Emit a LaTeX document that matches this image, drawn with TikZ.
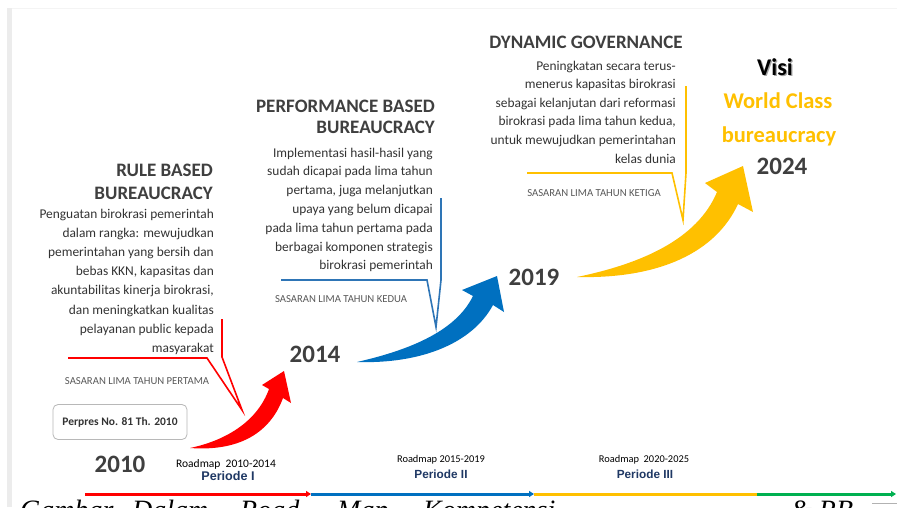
\documentclass[tikz,border=0pt]{standalone}
\usepackage{fontspec}
\setmainfont{Carlito}
\newfontfamily\heavyfont{Liberation Sans}
\newfontfamily\captionfont{Liberation Serif}
\usetikzlibrary{arrows.meta}

\definecolor{headgray}{HTML}{3F3F3F}
\definecolor{bodygray}{HTML}{333333}
\definecolor{notegray}{HTML}{595959}
\definecolor{rmred}{HTML}{FF0000}
\definecolor{rmblue}{HTML}{0070C0}
\definecolor{rmblueline}{HTML}{2E75B6}
\definecolor{rmyellow}{HTML}{FFC000}
\definecolor{rmgreen}{HTML}{00B050}
\definecolor{navy}{HTML}{1F3864}
\definecolor{edgegray}{HTML}{ECECEC}

\begin{document}
\begin{tikzpicture}[x=1pt,y=-1pt,
  head/.style={font=\fontsize{19}{23}\selectfont\bfseries, text=headgray, inner sep=0},
  body/.style={font=\fontsize{13.4}{19}\selectfont, text=bodygray, inner sep=0},
  target/.style={font=\fontsize{10.7}{12}\selectfont, text=notegray, inner sep=0},
  year/.style={font=\fontsize{25}{30}\selectfont\bfseries, text=headgray, inner sep=0},
  roadmap/.style={font=\fontsize{10.4}{12}\selectfont, text=black, inner sep=0},
  periode/.style={font=\heavyfont\fontsize{11.8}{13}\selectfont\bfseries, text=navy, inner sep=0},
  vision/.style={font=\fontsize{22.5}{26}\selectfont\bfseries, text=rmyellow, inner sep=0},
  calloutline/.style={line width=1.6pt, line join=miter},
  timeline/.style={line width=3pt},
  tiny tip/.style={-{Triangle[length=5pt,width=6pt]}},
  caption/.style={font=\captionfont\itshape\fontsize{28}{30}\selectfont, text=black, inner sep=0, anchor=base west}
]
\useasboundingbox (0,0) rectangle (897,507);
\fill[white] (0,0) rectangle (897,507);

% page frame shading on the left and top
\fill[edgegray] (7,8) rectangle (12,507);
\draw[edgegray!60, line width=0.8pt] (12,8) -- (897,8);

% ---------- Period I : rule based bureaucracy ----------
\node[head, anchor=base east] (rbh1) at (213,176) {RULE BASED};
\node[head, anchor=base east] (rbh2) at (213,199) {BUREAUCRACY};
\foreach \t [count=\i] in {Penguatan birokrasi pemerintah, dalam rangka: mewujudkan,
  pemerintahan yang bersih dan, {bebas KKN, kapasitas dan},
  {akuntabilitas kinerja birokrasi,}, dan meningkatkan kualitas,
  pelayanan public kepada, masyarakat}
  \node[body, anchor=base east] (rb\i) at (214,{218+(\i-1)*19.2}) {\t};

\coordinate (rc1) at (68,358);
\coordinate (rc2) at (207,358);
\coordinate (rtip) at (242,410);
\coordinate (rc3) at (222,357);
\coordinate (rc4) at (222,319);
\draw[calloutline, rmred] (rc1) -- (rc2) -- (rtip) -- (rc3) -- (rc4);
\node[target] (rbtarget) at (137,381) {SASARAN LIMA TAHUN PERTAMA};

\node[draw=black!28, rounded corners=5pt, line width=0.8pt, minimum width=134pt,
  minimum height=35pt, inner sep=0, fill=white] (perpres) at (120,422) {};
\node[font=\fontsize{11.5}{13}\selectfont\bfseries, text=bodygray, inner sep=0]
  (perprestext) at (perpres.center) {Perpres No. 81 Th. 2010};

\node[year, anchor=base] (y2010) at (120,472) {2010};

% red swoosh arrow 2010 -> 2014
\fill[rmred] (190,448) .. controls (228,440) and (258,420) .. (269,389)
  -- (262,385) -- (284,371) -- (291,403) -- (283,398)
  .. controls (272,428) and (245,452) .. (190,448) -- cycle;

% ---------- Period II : performance based bureaucracy ----------
\node[head, anchor=base east] (pbh1) at (435,112) {PERFORMANCE BASED};
\node[head, anchor=base east] (pbh2) at (435,133) {BUREAUCRACY};
\foreach \t [count=\i] in {Implementasi hasil-hasil yang, sudah dicapai pada lima tahun,
  {pertama, juga melanjutkan}, upaya yang belum dicapai,
  pada lima tahun pertama pada, berbagai komponen strategis, birokrasi pemerintah}
  \node[body, anchor=base east] (pb\i) at (433,{157+(\i-1)*18.8}) {\t};

\coordinate (bc1) at (281,280);
\coordinate (bc2) at (427,280);
\coordinate (btip) at (436,327);
\coordinate (bc3) at (441,280);
\coordinate (bc4) at (441,198);
\draw[calloutline, rmblueline] (bc1) -- (bc2) -- (btip) -- (bc3) -- (bc4);
\node[target] (pbtarget) at (341,299) {SASARAN LIMA TAHUN KEDUA};

\node[year, anchor=base] (y2014) at (315,362) {2014};

% blue swoosh arrow 2014 -> 2019
\fill[rmblue] (357,362) .. controls (405,351) and (455,333) .. (473,296)
  -- (462,290) -- (497,276) -- (504,312) -- (493,305)
  .. controls (472,344) and (420,364) .. (357,362) -- cycle;

% ---------- Period III : dynamic governance ----------
\node[head, anchor=base] (dgh) at (586,48) {DYNAMIC GOVERNANCE};
\foreach \t [count=\i] in {Peningkatan secara terus-, menerus kapasitas birokrasi,
  sebagai kelanjutan dari reformasi, {birokrasi pada lima tahun kedua,},
  untuk mewujudkan pemerintahan, kelas dunia}
  \node[body, anchor=base east] (dg\i) at (676,{70+(\i-1)*18.6}) {\t};

\coordinate (yc1) at (527,173);
\coordinate (yc2) at (672,173);
\coordinate (ytip) at (683,220);
\coordinate (yc3) at (686,173);
\coordinate (yc4) at (686,86);
\draw[calloutline, rmyellow] (yc1) -- (yc2) -- (ytip) -- (yc3) -- (yc4);
\node[target] (dgtarget) at (594,193) {SASARAN LIMA TAHUN KETIGA};

\node[year, anchor=base] (y2019) at (534,285) {2019};

% yellow swoosh arrow 2019 -> 2024
\fill[rmyellow] (577,277) .. controls (640,264) and (697,240) .. (717,192)
  -- (705,183) -- (743,166) -- (753,212) -- (738,204)
  .. controls (716,252) and (660,279) .. (577,277) -- cycle;

% ---------- vision 2024 ----------
\node[font=\fontsize{24}{28}\selectfont\bfseries, text=black, inner sep=0,
  anchor=base] (visi) at (775,75)
  {\makebox[0pt][l]{\hspace{1.2pt}\raisebox{-1.8pt}{\textcolor{black!35}{Visi}}}Visi};
\node[vision, anchor=base] (wc1) at (778,108) {World Class};
\node[vision, anchor=base] (wc2) at (779,142) {bureaucracy};
\node[year, anchor=base] (y2024) at (782,174) {2024};

% ---------- roadmap periods ----------
\node[roadmap, font=\fontsize{11.5}{13}\selectfont, anchor=base] (rm1) at (226,467) {Roadmap\ \ 2010-2014};
\node[periode, font=\heavyfont\fontsize{12.6}{14}\selectfont\bfseries, anchor=base] (pd1) at (228,480) {Periode I};
\node[roadmap, anchor=base] (rm2) at (441,462) {Roadmap 2015-2019};
\node[periode, anchor=base] (pd2) at (441,478) {Periode II};
\node[roadmap, anchor=base] (rm3) at (644,462) {Roadmap\ \ 2020-2025};
\node[periode, anchor=base] (pd3) at (645,478) {Periode III};

% ---------- time line ----------
\coordinate (t0) at (85,494);
\coordinate (t1) at (311,494);
\coordinate (t2) at (534,494);
\coordinate (t3) at (757,494);
\coordinate (t4) at (896,494);
\draw[timeline, rmred, tiny tip] (t0) -- (t1);
\draw[timeline, rmblue, tiny tip] (t1) -- (t2);
\draw[timeline, rmyellow] (t2) -- (t3);
\draw[timeline, rmgreen, tiny tip] (t3) -- (t4);

% ---------- caption line below (cut by the page edge) ----------
\begin{scope}
  \clip (0,0) rectangle (897,507);
  \node[caption] (cap1) at (20,519) {Gambar};
  \node[caption] (cap2) at (132,519) {Dalam};
  \node[caption] (cap3) at (240,519) {Road};
  \node[caption] (cap4) at (337,519) {Map};
  \node[caption] (cap5) at (423,519) {Kompetensi};
  \node[caption] (cap6) at (790,519) {\& RB};
  \draw[black!30, line width=1pt] (872,503.5) -- (897,503.5);
\end{scope}
\end{tikzpicture}
\end{document}
